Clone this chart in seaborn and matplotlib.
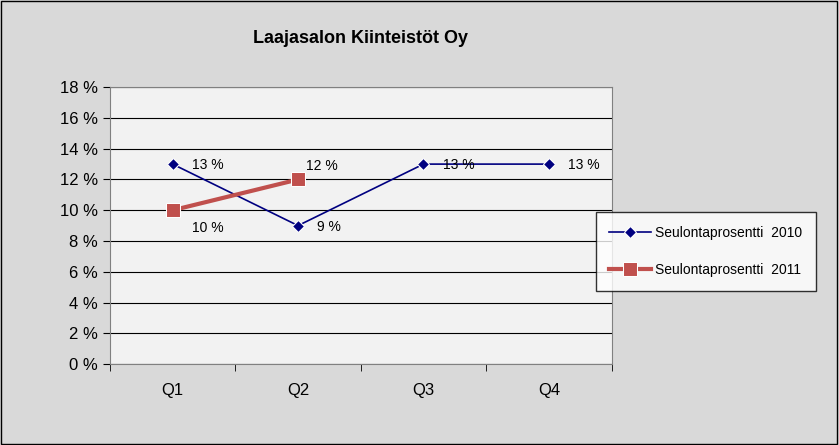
import matplotlib
matplotlib.use("Agg")
import matplotlib.pyplot as plt
import seaborn as sns
import pandas as pd

quarters = ["Q1", "Q2", "Q3", "Q4"]
s2010 = [13, 9, 13, 13]
q2011 = ["Q1", "Q2"]
s2011 = [10, 12]
yticks = list(range(0, 19, 2))

plt.rcParams["font.family"] = "Liberation Sans"
fig = plt.figure(figsize=(8.39, 4.45), dpi=100, facecolor="#d9d9d9")
fig.patches.append(plt.Rectangle((0.001, 0.002), 0.997, 0.996, transform=fig.transFigure,
                                 fill=False, edgecolor="black", lw=1))
ax = fig.add_axes([0.131, 0.182, 0.598, 0.622])
ax.set_facecolor("#f2f2f2")

d1 = pd.DataFrame({"q": quarters, "v": s2010})
d2 = pd.DataFrame({"q": q2011, "v": s2011})
sns.lineplot(data=d1, x="q", y="v", ax=ax, color="#000080", marker="D", markersize=6,
             lw=1.2, label="Seulontaprosentti  2010", sort=False)
sns.lineplot(data=d2, x="q", y="v", ax=ax, color="#c0504d", marker="s", markersize=10,
             lw=3, label="Seulontaprosentti  2011", sort=False)

for i, v in enumerate(s2010):
    ax.annotate(f"{v} %", (i, v), xytext=(14, -1), textcoords="offset points",
                va="center", fontsize=10)
ax.annotate("10 %", (0, 10), xytext=(14, -13), textcoords="offset points", va="center", fontsize=10)
ax.annotate("12 %", (1, 12), xytext=(6, 10), textcoords="offset points", va="center", fontsize=10)

ax.set_xlim(-0.5, 3.5)
ax.set_ylim(0, 18)
ax.set_yticks(yticks)
ax.set_yticklabels([f"{t} %" for t in yticks], fontsize=12)
ax.tick_params(axis="x", labelsize=12, length=0, pad=14)
ax.tick_params(axis="y", length=5, direction="out")
ax.set_xticks([-0.5, 0.5, 1.5, 2.5, 3.5], minor=True)
ax.tick_params(axis="x", which="minor", length=5)
ax.grid(axis="y", color="black", lw=0.8)
ax.set_axisbelow(True)
for s in ax.spines.values():
    s.set_color("#808080")
ax.set_xlabel("")
ax.set_ylabel("")
ax.set_title("Laajasalon Kiinteistöt Oy", fontsize=13, fontweight="bold", pad=32)

leg = ax.legend(loc="upper left", bbox_to_anchor=(0.968, 0.55), frameon=True, fancybox=False,
                edgecolor="black", fontsize=10, borderpad=1.0, labelspacing=1.7,
                handlelength=3.0, handletextpad=0.3, borderaxespad=0)
leg.get_frame().set_linewidth(1)
leg.get_frame().set_facecolor("white")

fig.savefig("out.png", dpi=100, facecolor=fig.get_facecolor())
